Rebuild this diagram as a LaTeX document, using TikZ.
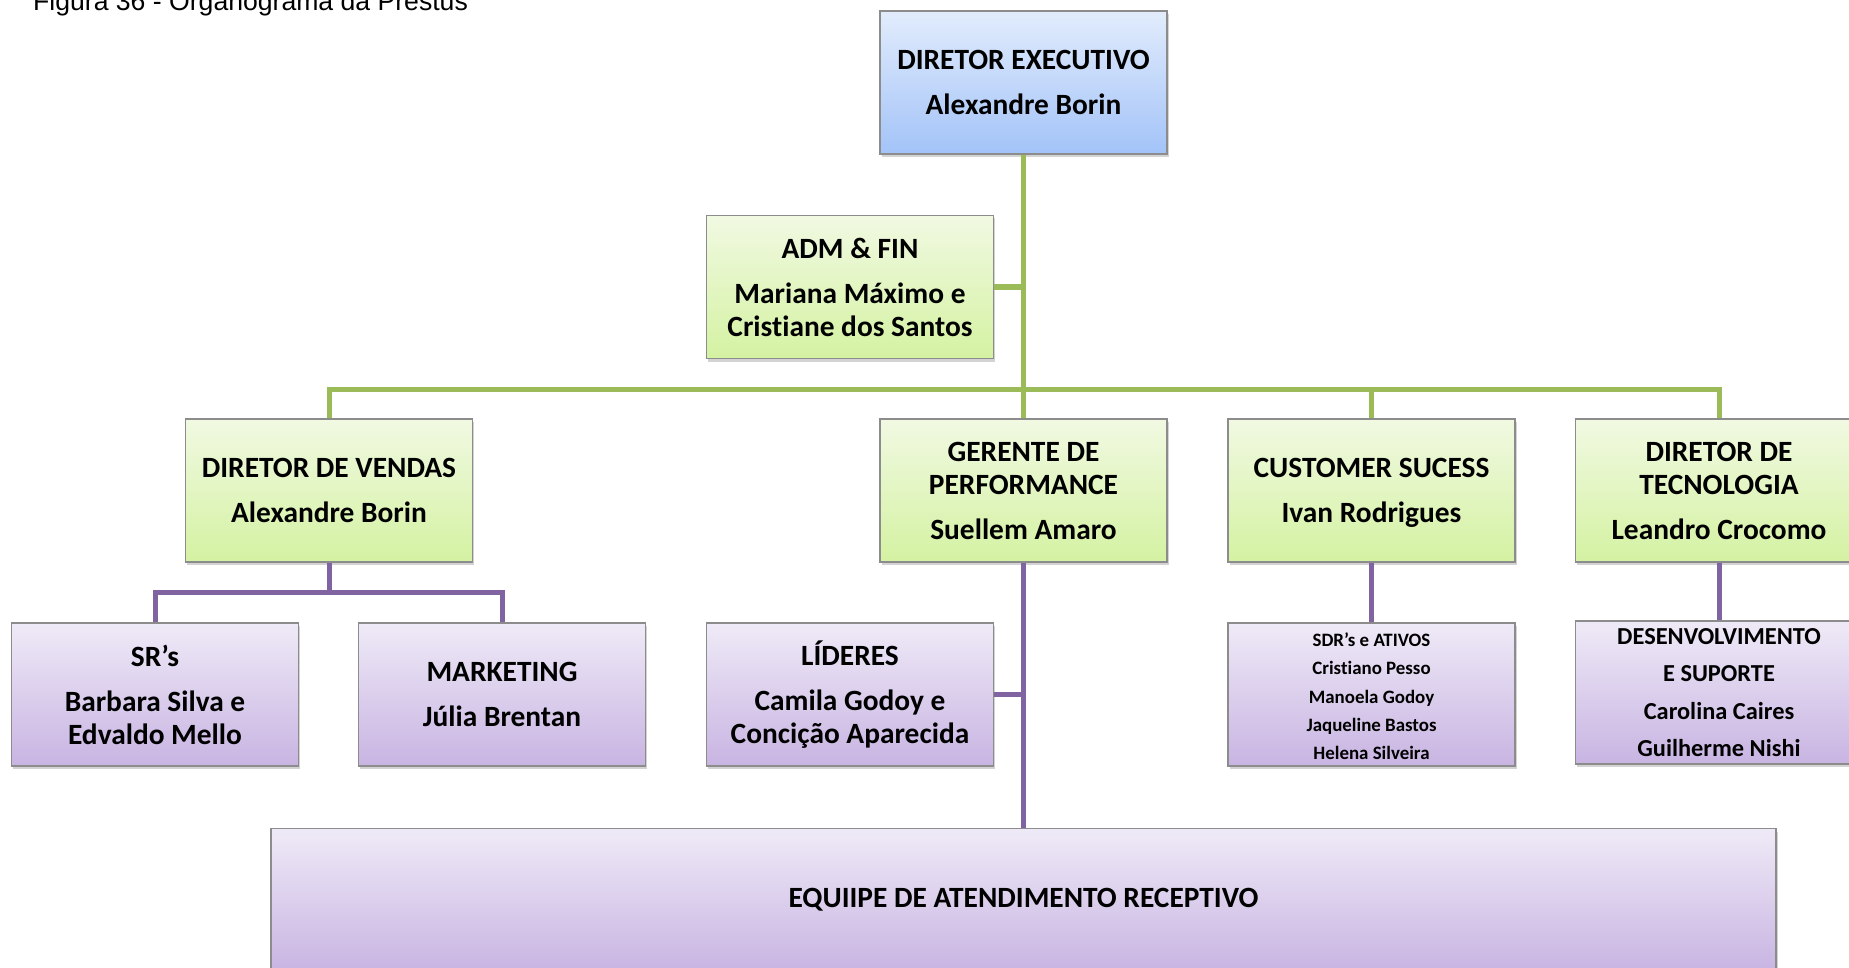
\documentclass[tikz,border=0pt]{standalone}
\usepackage{fontspec}
\setmainfont{Carlito}[Ligatures=NoCommon]
\newfontfamily\capfont{Liberation Sans}
\usetikzlibrary{positioning}
\usetikzlibrary{shadows}
\definecolor{trunkgreen}{HTML}{9BBB59}
\definecolor{branchpurple}{HTML}{8064A2}
\definecolor{blueTop}{HTML}{E2ECFC}
\definecolor{blueBot}{HTML}{A3C3F8}
\definecolor{greenTop}{HTML}{F1F9E2}
\definecolor{greenBot}{HTML}{D4F2A2}
\definecolor{purpleTop}{HTML}{EFEAF7}
\definecolor{purpleBot}{HTML}{C8B4E2}
\tikzset{
	% box styles
	orgbox/.style={draw=black!45,line width=1.2pt,
		minimum width=287pt,minimum height=143pt,inner sep=0pt,align=center,
		font=\bfseries\fontsize{29.4}{33}\selectfont,
		drop shadow={shadow xshift=1.5pt,shadow yshift=-3pt,opacity=0.35}},
	bluebox/.style={orgbox,top color=blueTop,bottom color=blueBot},
	greenbox/.style={orgbox,top color=greenTop,bottom color=greenBot},
	purplebox/.style={orgbox,top color=purpleTop,bottom color=purpleBot},
	% connector styles
	greenline/.style={draw=trunkgreen,line width=5pt},
	purpleline/.style={draw=branchpurple,line width=5pt},
}

\begin{document}
\begin{tikzpicture}[x=1pt,y=-1pt]
\useasboundingbox (0,0) rectangle (1849,968);
% caption, cut at the top edge
\node[anchor=base west,inner sep=0pt,font=\capfont\fontsize{26.6}{30}\selectfont] (caption) at (33,11) {Figura 36 - Organograma da Prestus};
% top level
\node[bluebox] (dirExec) at (1023.5,82.5) {DIRETOR EXECUTIVO\\[12pt]Alexandre Borin};
\node[greenbox] (admFin) at (850,287) {ADM \& FIN\\[12pt]Mariana Máximo e\\Cristiane dos Santos};
% second row
\node[greenbox] (dirVendas) at (329,490.5) {DIRETOR DE VENDAS\\[12pt]Alexandre Borin};
\node[greenbox] (gerPerf) at (1023.5,490.5) {GERENTE DE\\PERFORMANCE\\[12pt]Suellem Amaro};
\node[greenbox] (custSuc) at (1371.5,490.5) {CUSTOMER SUCESS\\[12pt]Ivan Rodri\smash{g}ues};
\node[greenbox] (dirTec) at (1719,490.5) {DIRETOR DE\\TECNOLOGIA\\[12pt]Leandro Crocomo};
% third row
\node[purplebox] (srs) at (155,694.5) {SR’s\\[12pt]Barbara Silva e\\Edvaldo Mello};
\node[purplebox] (marketing) at (502,694.5) {MARKETING\\[12pt]Júlia Brentan};
\node[purplebox] (lideres) at (850,694.5) {LÍDERES\\[12pt]Camila Godoy e\\Concição Aparecida};
\node[purplebox,font=\bfseries\fontsize{18.9}{28.3}\selectfont] (sdrs) at (1371.5,694.5) {\rule{0pt}{17.5pt}SDR’s e ATIVOS\\Cristiano Pesso\\Manoela Godoy\\Jaqueline Bastos\\Helena Silveira};
\node[purplebox,font=\bfseries\fontsize{24.4}{37.5}\selectfont] (desenv) at (1719,692.5) {DESENVOLVIMENTO\\E SUPORTE\\Carolina Caires\\Guilherme Nishi};
% bottom
\node[purplebox,minimum width=1505pt] (equipe) at (1023.5,900) {EQUIIPE DE ATENDIMENTO RECEPTIVO};
% green connectors
\coordinate (bus) at (1023.5,389);
\draw[greenline] (dirExec.south) -- (gerPerf.north);
\draw[greenline] (admFin.east) -- (admFin.east -| dirExec.south);
\draw[greenline] (dirVendas.north) |- (bus) -| (dirTec.north);
\draw[greenline] (custSuc.north) -- (custSuc.north |- bus);
% purple connectors
\coordinate (salesJoint) at (329,592);
\draw[purpleline] (dirVendas.south) -- (salesJoint);
\draw[purpleline] (srs.north) |- (salesJoint) -| (marketing.north);
\draw[purpleline] (gerPerf.south) -- (equipe.north);
\draw[purpleline] (lideres.east) -- (lideres.east -| gerPerf.south);
\draw[purpleline] (custSuc.south) -- (sdrs.north);
\draw[purpleline] (dirTec.south) -- (desenv.north);
\end{tikzpicture}
\end{document}
